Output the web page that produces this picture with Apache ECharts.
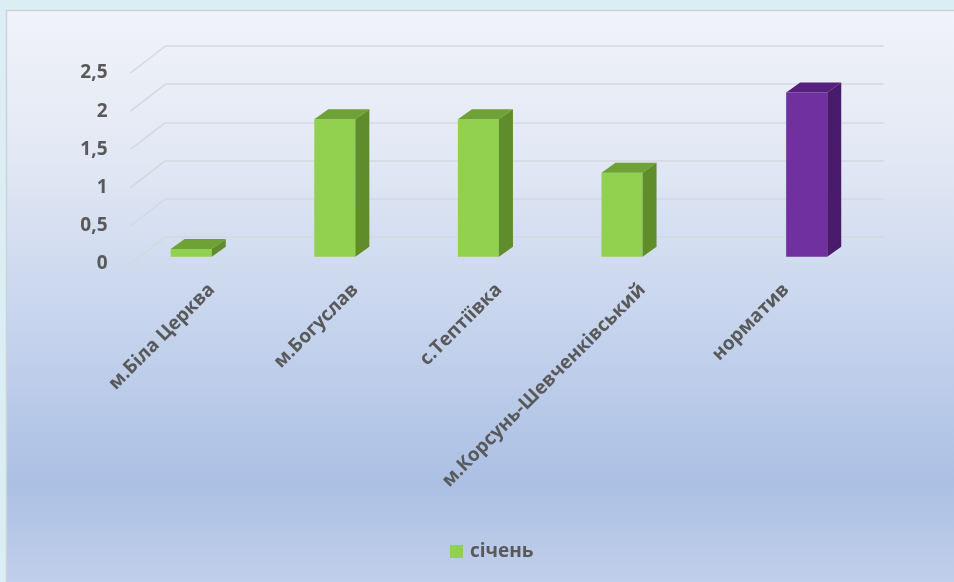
<!DOCTYPE html>
<html>
<head>
<meta charset="utf-8">
<script src="https://cdn.jsdelivr.net/npm/echarts@6/dist/echarts.min.js"></script>
<style>
  html, body { margin: 0; padding: 0; background: #dbeef3; }
  #chart { width: 954px; height: 582px; }
</style>
</head>
<body>
<div id="chart"></div>
<script>
// Categories along the floor of the chart
const categories = ['м.Біла Церква', 'м.Богуслав', 'с.Тептіївка', 'м.Корсунь-Шевченківський', 'норматив'];
// January readings per settlement (no reading for the norm column)
const januaryValues = [0.1, 1.8, 1.8, 1.1, null];
// Norm value, shown in its own slot
const normValues = [null, null, null, null, 2.15];
// Value axis ticks
const yTicks = [0, 0.5, 1, 1.5, 2, 2.5];
const yMin = 0, yMax = 2.5, yStep = 0.5;

const TEXT = '#595959';
const FONT = '"Open Sans", "Noto Sans", sans-serif';

// Depth of the 3D box (front plane -> back wall) and of each column
const DEPTH_X = 35, DEPTH_Y = 27;
const BAR_DX = 14, BAR_DY = 10;
const BAR_RATIO = 0.286;

// Plane geometry: front plane, column plane, back wall
const PLOT_W = 718, PLOT_H = 191;
const FRONT = { left: 130.5, top: 73 };
const MID = { left: FRONT.left + DEPTH_X * 0.27, top: FRONT.top - DEPTH_Y * 0.27 };
const BACK = { left: FRONT.left + DEPTH_X, top: FRONT.top - DEPTH_Y };

const chart = echarts.init(document.getElementById('chart'));

function makeYAxis(gridIndex, showLabels, showSplit) {
  return {
    type: 'value', gridIndex, min: yMin, max: yMax, interval: yStep,
    axisLine: { show: false }, axisTick: { show: false },
    axisLabel: {
      show: showLabels, margin: 23, color: TEXT, fontFamily: FONT,
      fontWeight: 'bold', fontSize: 19,
      formatter: v => String(v).replace('.', ',')
    },
    splitLine: { show: showSplit, lineStyle: { color: '#d3d8e1', width: 1.5 } }
  };
}

function makeXAxis(gridIndex, showLabels) {
  return {
    type: 'category', gridIndex, data: categories, boundaryGap: true,
    axisLine: { show: false }, axisTick: { show: false },
    axisLabel: {
      show: showLabels, interval: 0, rotate: 45, margin: 30,
      color: TEXT, fontFamily: FONT, fontWeight: 'bold', fontSize: 19
    },
    splitLine: { show: false }
  };
}

// 3D column: front face, top face and right side face
function columnRenderer(slot, colors) {
  return function (params, api) {
    const val = api.value(1);
    if (val == null || isNaN(val)) return;
    const idx = api.value(0);
    const base = api.coord([idx, 0]);
    const top = api.coord([idx, val]);
    const band = api.size([1, 0])[0];
    const w = band * BAR_RATIO;
    const x = base[0] + (slot === 0 ? -w : 0);
    return {
      type: 'group',
      children: [
        { type: 'rect', shape: { x: x, y: top[1], width: w, height: base[1] - top[1] },
          style: { fill: colors.front } },
        { type: 'polygon', shape: { points: [
            [x, top[1]], [x + w, top[1]], [x + w + BAR_DX, top[1] - BAR_DY], [x + BAR_DX, top[1] - BAR_DY]
          ] }, style: { fill: colors.top } },
        { type: 'polygon', shape: { points: [
            [x + w, top[1]], [x + w + BAR_DX, top[1] - BAR_DY], [x + w + BAR_DX, base[1] - BAR_DY], [x + w, base[1]]
          ] }, style: { fill: colors.side } }
      ]
    };
  };
}

// Side-wall lines joining the front axis to the back wall grid
function sideWallRenderer(params, api) {
  const v = api.value(0);
  const p = api.coord([0, v]);
  const band = api.size([1, 0])[0];
  const x0 = p[0] - band / 2;
  return {
    type: 'line',
    shape: { x1: x0, y1: p[1], x2: x0 + DEPTH_X, y2: p[1] - DEPTH_Y },
    style: { stroke: '#d3d8e1', lineWidth: 1.5 }
  };
}

const green = { front: '#92d050', top: '#6fa236', side: '#5f8d2c' };
const purple = { front: '#7030a0', top: '#55207e', side: '#4a1b6d' };

chart.setOption({
  backgroundColor: '#dbeef3',
  animation: false,
  graphic: [{
    type: 'rect', z: -10, silent: true,
    shape: { x: 6.5, y: 10.5, width: 960, height: 590 },
    style: {
      fill: new echarts.graphic.LinearGradient(0, 0, 0, 1, [
        { offset: 0, color: '#f1f3f9' },
        { offset: 0.25, color: '#e2e8f4' },
        { offset: 0.5, color: '#c9d6ee' },
        { offset: 0.8, color: '#acc0e4' },
        { offset: 1, color: '#c4d2ec' }
      ]),
      stroke: '#cdd2d9', lineWidth: 1.5
    }
  }],
  grid: [
    { left: FRONT.left, top: FRONT.top, width: PLOT_W, height: PLOT_H },
    { left: MID.left, top: MID.top, width: PLOT_W, height: PLOT_H },
    { left: BACK.left, top: BACK.top, width: PLOT_W, height: PLOT_H }
  ],
  xAxis: [makeXAxis(0, false), makeXAxis(1, true), makeXAxis(2, false)],
  yAxis: [makeYAxis(0, true, false), makeYAxis(1, false, false), makeYAxis(2, false, true)],
  legend: {
    data: ['січень'], left: 445, top: 537,
    icon: 'rect', itemWidth: 13, itemHeight: 13, itemGap: 10,
    textStyle: { color: TEXT, fontFamily: FONT, fontWeight: 'bold', fontSize: 19, padding: [0, 0, 0, 2] }
  },
  series: [
    {
      type: 'custom', name: 'side-wall', xAxisIndex: 0, yAxisIndex: 0, silent: true,
      data: yTicks.map(v => [v]), encode: { y: 0 },
      renderItem: sideWallRenderer
    },
    {
      type: 'custom', name: 'січень', xAxisIndex: 1, yAxisIndex: 1,
      itemStyle: { color: green.front },
      data: januaryValues.map((v, i) => [i, v]),
      encode: { x: 0, y: 1 },
      renderItem: columnRenderer(0, green)
    },
    {
      type: 'custom', name: 'норматив', xAxisIndex: 1, yAxisIndex: 1,
      itemStyle: { color: purple.front },
      data: normValues.map((v, i) => [i, v]),
      encode: { x: 0, y: 1 },
      renderItem: columnRenderer(1, purple)
    }
  ]
});
</script>
</body>
</html>
